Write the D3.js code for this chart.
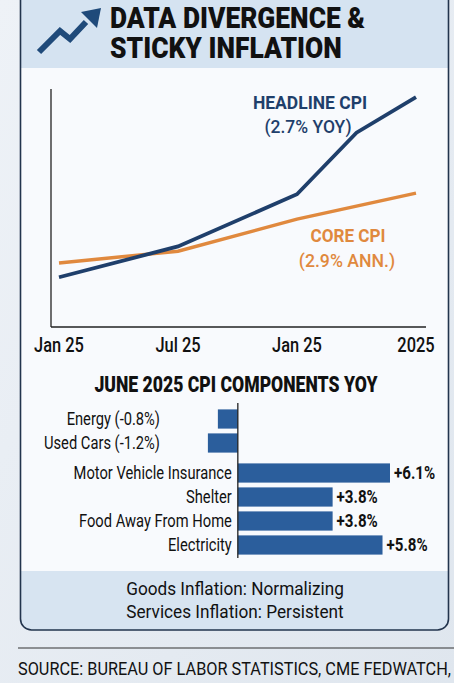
<!DOCTYPE html>
<html>
<head>
<meta charset="utf-8">
<script src="https://cdn.jsdelivr.net/npm/d3@7"></script>
<style>
  body { margin: 0; background: #e7ecf2; }
  svg { display: block; }
  text { font-family: Roboto, "Noto Sans", sans-serif; }
</style>
</head>
<body>
<div id="chart"></div>
<script>
// line chart data (index of months since Jan 25, relative level 0-100)
var headlineMonths = [0, 6, 12, 15, 18];
var headlineValues = [21, 34, 56, 82, 97];
var coreMonths = [0, 6, 12, 18];
var coreValues = [27, 32, 45.5, 56.5];
var tickMonths = [0, 6, 12, 18];
var tickLabels = ["Jan 25", "Jul 25", "Jan 25", "2025"];

// bar chart data
var components = ["Energy (-0.8%)", "Used Cars (-1.2%)", "Motor Vehicle Insurance", "Shelter", "Food Away From Home", "Electricity"];
var componentValues = [-0.8, -1.2, 6.1, 3.8, 3.8, 5.8];
var componentGroups = ["goods", "goods", "services", "services", "services", "services"];

var W = 454, H = 683;
var navy = "#1f3f6b", orange = "#e0893e", barBlue = "#2b5e9c";
var squeeze = 0.84; // condensed look

// squeeze text horizontally so it reads like a condensed face
function condense(sel, k) {
  sel.each(function() {
    var len = this.getComputedTextLength();
    d3.select(this).attr("textLength", len * (k || squeeze)).attr("lengthAdjust", "spacingAndGlyphs");
  });
}

var svg = d3.select("#chart")
  .append("svg")
  .attr("width", W)
  .attr("height", H);

// background
var defs = svg.append("defs");
var bg = defs.append("linearGradient")
  .attr("id", "bg").attr("x1", 0).attr("y1", 0).attr("x2", 1).attr("y2", 1);
bg.append("stop").attr("offset", "0%").attr("stop-color", "#eef2f7");
bg.append("stop").attr("offset", "100%").attr("stop-color", "#dfe6ee");
svg.append("rect").attr("width", W).attr("height", H).attr("fill", "url(#bg)");

// card
defs.append("clipPath").attr("id", "card")
  .append("rect").attr("x", 20.5).attr("y", -20).attr("width", 428).attr("height", 650).attr("rx", 11);
var card = svg.append("g").attr("clip-path", "url(#card)");
card.append("rect").attr("x", 0).attr("y", -20).attr("width", W).attr("height", 88).attr("fill", "#d5e3f1");
card.append("rect").attr("x", 0).attr("y", 68).attr("width", W).attr("height", 503).attr("fill", "#f8fafd");
card.append("rect").attr("x", 0).attr("y", 571).attr("width", W).attr("height", 60).attr("fill", "#d7e4f1");
svg.append("rect").attr("x", 20.5).attr("y", -20).attr("width", 428).attr("height", 650).attr("rx", 11)
  .attr("fill", "none").attr("stroke", "#22344d").attr("stroke-width", 1.6);

// title icon
svg.append("path")
  .attr("d", "M39,52 L60,31 L70,39 L86,22")
  .attr("fill", "none").attr("stroke", "#1f4a7a").attr("stroke-width", 6);
svg.append("path")
  .attr("d", "M81,12 L101,8 L97,28 Z")
  .attr("fill", "#1f4a7a");

svg.append("text").attr("x", 110).attr("y", 28).attr("font-size", 29).attr("font-weight", 900).attr("fill", "#111")
  .text("DATA DIVERGENCE &").call(condense, 0.91);
svg.append("text").attr("x", 110).attr("y", 58).attr("font-size", 29).attr("font-weight", 900).attr("fill", "#111")
  .text("STICKY INFLATION").call(condense, 0.91);

// line chart
var x = d3.scaleLinear().domain([0, 18]).range([59, 416]);
var y = d3.scaleLinear().domain([0, 100]).range([327, 90]);

svg.append("line").attr("x1", 51).attr("x2", 51).attr("y1", 89).attr("y2", 327)
  .attr("stroke", "#222").attr("stroke-width", 1.3);
svg.append("line").attr("x1", 51).attr("x2", 426).attr("y1", 327).attr("y2", 327)
  .attr("stroke", "#222").attr("stroke-width", 1.3);

svg.selectAll(".tick-label")
  .data(tickMonths)
  .join("text")
  .attr("class", "tick-label")
  .attr("x", function(d) { return x(d); })
  .attr("y", 352)
  .attr("text-anchor", "middle")
  .attr("font-size", 20)
  .attr("font-weight", 500)
  .attr("fill", "#111")
  .text(function(d, i) { return tickLabels[i]; })
  .call(condense, 0.82);

var line = d3.line()
  .x(function(d) { return x(d[0]); })
  .y(function(d) { return y(d[1]); });

svg.append("path")
  .attr("d", line(d3.zip(coreMonths, coreValues)))
  .attr("fill", "none").attr("stroke", orange).attr("stroke-width", 3.5);
svg.append("path")
  .attr("d", line(d3.zip(headlineMonths, headlineValues)))
  .attr("fill", "none").attr("stroke", navy).attr("stroke-width", 3.8);

svg.append("text").attr("x", 310).attr("y", 109).attr("text-anchor", "middle").attr("fill", navy)
  .attr("font-size", 19).attr("font-weight", "bold").text("HEADLINE CPI").call(condense, 0.92);
svg.append("text").attr("x", 308).attr("y", 133).attr("text-anchor", "middle").attr("fill", navy)
  .attr("font-size", 19).attr("font-weight", 500).text("(2.7% YOY)").call(condense, 0.92);
svg.append("text").attr("x", 348).attr("y", 242).attr("text-anchor", "middle").attr("fill", orange)
  .attr("font-size", 19).attr("font-weight", "bold").text("CORE CPI").call(condense, 0.9);
svg.append("text").attr("x", 347).attr("y", 267).attr("text-anchor", "middle").attr("fill", orange)
  .attr("font-size", 19).attr("font-weight", 500).text("(2.9% ANN.)").call(condense, 0.93);

// bar chart
svg.append("text")
  .attr("x", 236).attr("y", 392)
  .attr("text-anchor", "middle")
  .attr("font-size", 22).attr("font-weight", 900).attr("fill", "#111")
  .text("JUNE 2025 CPI COMPONENTS YOY")
  .call(condense, 0.8);

var bx = d3.scaleLinear().domain([-3.2, 6.1]).range([158, 390]);
var by = d3.scaleBand().domain(components).range([407, 551]).paddingInner(0.2).paddingOuter(0.1);
var groupGap = { goods: 0, services: 6 };

var rows = components.map(function(c, i) {
  return { name: c, value: componentValues[i], group: componentGroups[i] };
});
function rowY(d) { return by(d.name) + groupGap[d.group]; }

svg.selectAll(".bar")
  .data(rows)
  .join("rect")
  .attr("class", "bar")
  .attr("x", function(d) { return bx(Math.min(0, d.value)); })
  .attr("y", rowY)
  .attr("width", function(d) { return Math.abs(bx(d.value) - bx(0)); })
  .attr("height", by.bandwidth())
  .attr("fill", barBlue);

svg.append("line")
  .attr("x1", bx(0)).attr("x2", bx(0)).attr("y1", 403).attr("y2", 558)
  .attr("stroke", "#222").attr("stroke-width", 1.3);

svg.selectAll(".cat")
  .data(rows)
  .join("text")
  .attr("class", "cat")
  .attr("x", function(d) { return d.value < 0 ? bx.range()[0] + 2 : bx(0) - 6; })
  .attr("y", function(d) { return rowY(d) + by.bandwidth() / 2 + 6; })
  .attr("text-anchor", "end")
  .attr("font-size", 17.5).attr("fill", "#111")
  .text(function(d) { return d.name; })
  .call(condense);

svg.selectAll(".val")
  .data(rows.filter(function(d) { return d.value > 0; }))
  .join("text")
  .attr("class", "val")
  .attr("x", function(d) { return bx(d.value) + 4; })
  .attr("y", function(d) { return rowY(d) + by.bandwidth() / 2 + 6; })
  .attr("font-size", 18).attr("font-weight", "bold").attr("fill", "#111")
  .text(function(d) { return "+" + d.value.toFixed(1) + "%"; })
  .call(condense);

// footer
svg.append("text").attr("x", 235).attr("y", 595).attr("text-anchor", "middle").attr("font-size", 18.5).attr("fill", "#111")
  .text("Goods Inflation: Normalizing").call(condense, 0.93);
svg.append("text").attr("x", 235).attr("y", 618).attr("text-anchor", "middle").attr("font-size", 18.5).attr("fill", "#111")
  .text("Services Inflation: Persistent").call(condense, 0.93);

svg.append("line").attr("x1", 18).attr("x2", W).attr("y1", 648).attr("y2", 648)
  .attr("stroke", "#333").attr("stroke-width", 1.2);
svg.append("text")
  .attr("x", 18).attr("y", 675)
  .attr("font-size", 18.5).attr("fill", "#111")
  .text("SOURCE: BUREAU OF LABOR STATISTICS, CME FEDWATCH, CPI")
  .call(condense, 0.88);
</script>
</body>
</html>
